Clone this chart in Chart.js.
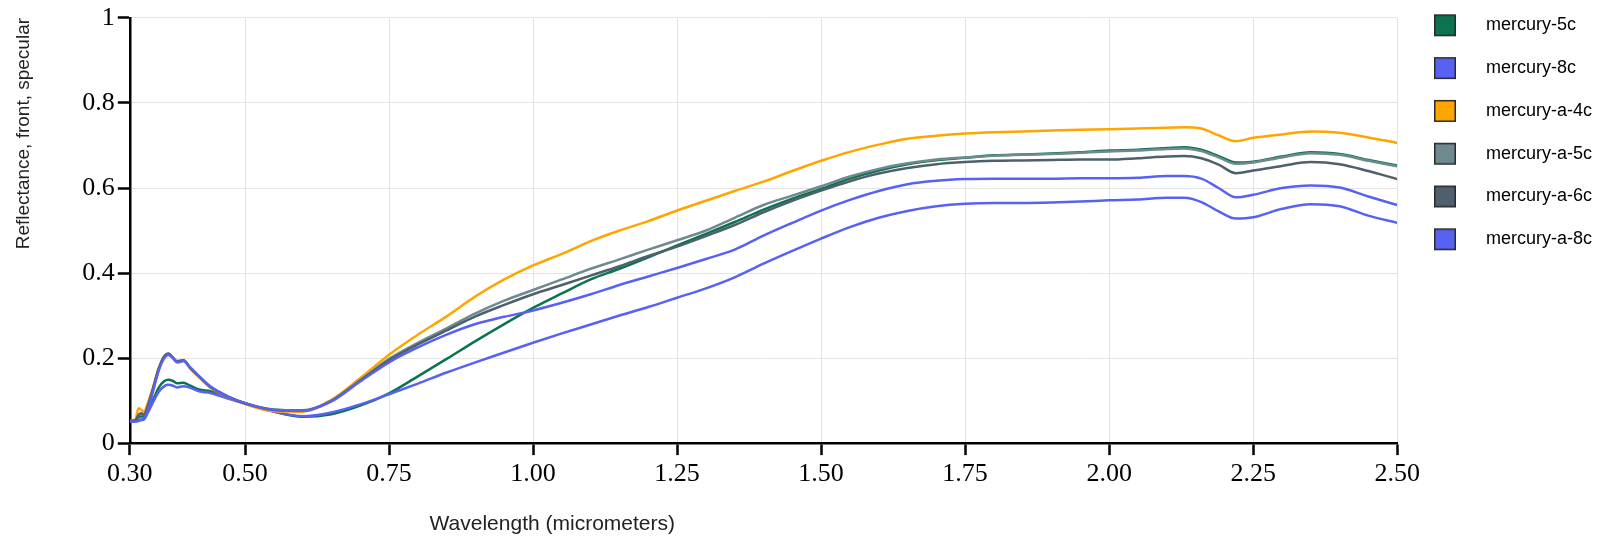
<!DOCTYPE html>
<html>
<head>
<meta charset="utf-8">
<script src="https://cdn.jsdelivr.net/npm/chart.js@4/dist/chart.umd.min.js"></script>
<style>
  html, body { margin: 0; padding: 0; background: #fff; }
  #wrap { width: 1602px; height: 542px; }
</style>
</head>
<body>
<div id="wrap"><canvas id="spectra"></canvas></div>
<script>
const wavelengths = [0.30, 0.31, 0.315, 0.32, 0.325, 0.33, 0.34, 0.35, 0.36, 0.367, 0.375, 0.382, 0.393, 0.405, 0.42, 0.44, 0.47, 0.50, 0.55, 0.60,
    0.65, 0.70, 0.75, 0.80, 0.85, 0.90, 0.95, 1.00, 1.05, 1.10, 1.15, 1.20, 1.25, 1.30, 1.35, 1.40, 1.45, 1.50, 1.55, 1.60,
    1.65, 1.70, 1.75, 1.80, 1.85, 1.90, 1.95, 2.00, 2.05, 2.10, 2.13, 2.16, 2.19, 2.22, 2.25, 2.30, 2.35, 2.40, 2.45, 2.50];

const mercury5c = [0.052, 0.053, 0.060, 0.063, 0.062, 0.072, 0.100, 0.130, 0.146, 0.149, 0.146, 0.141, 0.142, 0.135, 0.126, 0.122, 0.107, 0.094, 0.074, 0.062,
    0.068, 0.088, 0.117, 0.157, 0.198, 0.240, 0.280, 0.318, 0.352, 0.385, 0.410, 0.437, 0.465, 0.492, 0.520, 0.549, 0.575, 0.598, 0.622, 0.641,
    0.656, 0.665, 0.671, 0.677, 0.679, 0.681, 0.684, 0.688, 0.690, 0.694, 0.696, 0.690, 0.675, 0.660, 0.662, 0.674, 0.684, 0.680, 0.666, 0.653];
const mercury8c = [0.050, 0.051, 0.052, 0.054, 0.056, 0.068, 0.095, 0.120, 0.134, 0.137, 0.135, 0.131, 0.134, 0.130, 0.122, 0.118, 0.105, 0.093, 0.074, 0.063,
    0.072, 0.091, 0.115, 0.140, 0.166, 0.190, 0.213, 0.236, 0.258, 0.279, 0.300, 0.320, 0.342, 0.364, 0.390, 0.422, 0.452, 0.481, 0.508, 0.530,
    0.546, 0.557, 0.563, 0.565, 0.565, 0.566, 0.568, 0.571, 0.573, 0.577, 0.577, 0.567, 0.545, 0.528, 0.531, 0.551, 0.562, 0.557, 0.535, 0.518];
const mercuryA4c = [0.052, 0.056, 0.082, 0.078, 0.074, 0.090, 0.130, 0.175, 0.203, 0.209, 0.200, 0.190, 0.193, 0.175, 0.155, 0.130, 0.108, 0.092, 0.075, 0.074,
    0.102, 0.153, 0.208, 0.255, 0.298, 0.345, 0.385, 0.418, 0.445, 0.475, 0.500, 0.522, 0.547, 0.570, 0.593, 0.615, 0.640, 0.664, 0.685, 0.702,
    0.716, 0.723, 0.728, 0.731, 0.733, 0.735, 0.737, 0.738, 0.740, 0.742, 0.743, 0.740, 0.724, 0.710, 0.718, 0.726, 0.733, 0.730, 0.719, 0.706];
const mercuryA5c = [0.052, 0.053, 0.065, 0.068, 0.066, 0.080, 0.125, 0.172, 0.203, 0.210, 0.200, 0.192, 0.195, 0.177, 0.157, 0.133, 0.110, 0.094, 0.079, 0.077,
    0.100, 0.148, 0.198, 0.236, 0.270, 0.305, 0.335, 0.360, 0.385, 0.410, 0.432, 0.455, 0.477, 0.500, 0.530, 0.560, 0.582, 0.604, 0.627, 0.645,
    0.658, 0.667, 0.672, 0.676, 0.678, 0.680, 0.683, 0.686, 0.688, 0.692, 0.693, 0.687, 0.672, 0.657, 0.660, 0.672, 0.682, 0.678, 0.664, 0.651];
const mercuryA6c = [0.052, 0.054, 0.066, 0.070, 0.067, 0.082, 0.127, 0.175, 0.205, 0.211, 0.201, 0.193, 0.195, 0.177, 0.157, 0.132, 0.109, 0.093, 0.078, 0.076,
    0.099, 0.147, 0.195, 0.232, 0.265, 0.298, 0.325, 0.350, 0.372, 0.394, 0.416, 0.440, 0.462, 0.487, 0.513, 0.543, 0.570, 0.594, 0.616, 0.634,
    0.647, 0.656, 0.661, 0.664, 0.665, 0.666, 0.667, 0.667, 0.670, 0.674, 0.675, 0.670, 0.655, 0.635, 0.641, 0.652, 0.661, 0.656, 0.640, 0.621];
const mercuryA8c = [0.050, 0.051, 0.053, 0.056, 0.058, 0.072, 0.120, 0.170, 0.200, 0.207, 0.200, 0.190, 0.193, 0.178, 0.158, 0.133, 0.110, 0.094, 0.078, 0.076,
    0.098, 0.145, 0.190, 0.225, 0.255, 0.280, 0.297, 0.312, 0.330, 0.350, 0.372, 0.392, 0.412, 0.433, 0.455, 0.488, 0.518, 0.547, 0.572, 0.593,
    0.609, 0.617, 0.621, 0.622, 0.622, 0.622, 0.623, 0.623, 0.624, 0.628, 0.628, 0.622, 0.600, 0.578, 0.584, 0.600, 0.606, 0.601, 0.580, 0.560];

const seriesNames = ['mercury-5c', 'mercury-8c', 'mercury-a-4c', 'mercury-a-5c', 'mercury-a-6c', 'mercury-a-8c'];
const seriesValues = [mercury5c, mercury8c, mercuryA4c, mercuryA5c, mercuryA6c, mercuryA8c];
const seriesColors = ['#0a7350', '#5862f2', '#ffa500', '#6e8a90', '#4e606c', '#5862f2'];

const xTicks = [0.30, 0.50, 0.75, 1.00, 1.25, 1.50, 1.75, 2.00, 2.25, 2.50];

// legend swatch: square with some room around it so the text sits further right
function swatch(color) {
    const c = document.createElement('canvas');
    c.width = 55;
    c.height = 24;
    const g = c.getContext('2d');
    g.fillStyle = color;
    g.strokeStyle = '#2a2a2a';
    g.lineWidth = 1.5;
    g.fillRect(12.75, 1.75, 20.5, 20.5);
    g.strokeRect(12.75, 1.75, 20.5, 20.5);
    return c;
}

const datasets = seriesNames.map((name, k) => ({
    label: name,
    data: wavelengths.map((w, i) => ({ x: w, y: seriesValues[k][i] })),
    borderColor: seriesColors[k],
    backgroundColor: seriesColors[k],
    borderWidth: 2.5,
    pointRadius: 0,
    cubicInterpolationMode: 'monotone',
    order: seriesNames.length - k
}));

const nudgeLegend = {
    id: 'nudgeLegend',
    afterLayout(chart) {
        chart.legend.top -= 6.5;
        chart.legend.bottom -= 6.5;
    }
};

const xTitle = {
    id: 'xTitle',
    afterDraw(chart) {
        const ctx = chart.ctx;
        const area = chart.chartArea;
        ctx.save();
        ctx.font = '21px "Liberation Sans", Arial, sans-serif';
        ctx.fillStyle = '#222';
        ctx.textAlign = 'center';
        ctx.textBaseline = 'alphabetic';
        ctx.fillText('Wavelength (micrometers)', area.left + area.width / 3, chart.height - 12.5);
        ctx.restore();
    }
};

const tickFont = { family: '"Liberation Serif", "Times New Roman", serif', size: 26, lineHeight: 1.15 };

new Chart(document.getElementById('spectra'), {
    type: 'line',
    data: { datasets: datasets },
    options: {
        responsive: true,
        maintainAspectRatio: false,
        animation: false,
        devicePixelRatio: 1,
        layout: { padding: { left: 8, right: 0, top: -2, bottom: 49 } },
        plugins: {
            tooltip: { enabled: false },
            legend: {
                position: 'right',
                align: 'start',
                labels: {
                    usePointStyle: true,
                    pointStyleWidth: 55,
                    padding: 24.8,
                    color: '#222',
                    font: { family: '"Liberation Sans", Arial, sans-serif', size: 18 },
                    generateLabels: function(chart) {
                        return seriesNames.map((name, k) => ({
                            text: name,
                            pointStyle: swatch(seriesColors[k]),
                            fillStyle: seriesColors[k],
                            strokeStyle: '#2a2a2a',
                            lineWidth: 1.5,
                            hidden: false,
                            datasetIndex: k
                        }));
                    }
                }
            }
        },
        scales: {
            x: {
                type: 'linear',
                min: 0.3,
                max: 2.5,
                afterBuildTicks: function(scale) {
                    scale.ticks = xTicks.map(v => ({ value: v }));
                },
                ticks: {
                    autoSkip: false,
                    maxRotation: 0,
                    padding: 4,
                    color: '#000',
                    font: tickFont,
                    callback: function(value) {
                        return value.toFixed(2);
                    }
                },
                grid: { color: '#e4e4e4', lineWidth: 1, tickColor: '#000', tickWidth: 2.5, tickLength: 12 },
                border: { color: '#000', width: 2.5 }
            },
            y: {
                min: 0,
                max: 1,
                ticks: {
                    stepSize: 0.2,
                    padding: 3,
                    color: '#000',
                    font: tickFont,
                    callback: function(value) {
                        return String(+value.toFixed(1));
                    }
                },
                grid: { color: '#e4e4e4', lineWidth: 1, tickColor: '#000', tickWidth: 2.5, tickLength: 12 },
                border: { color: '#000', width: 2.5 },
                title: {
                    display: true,
                    text: 'Reflectance, front, specular',
                    align: 'end',
                    color: '#222',
                    padding: { top: 4, bottom: 44.5 },
                    font: { family: '"Liberation Sans", Arial, sans-serif', size: 19 }
                }
            }
        }
    },
    plugins: [nudgeLegend, xTitle]
});
</script>
</body>
</html>
